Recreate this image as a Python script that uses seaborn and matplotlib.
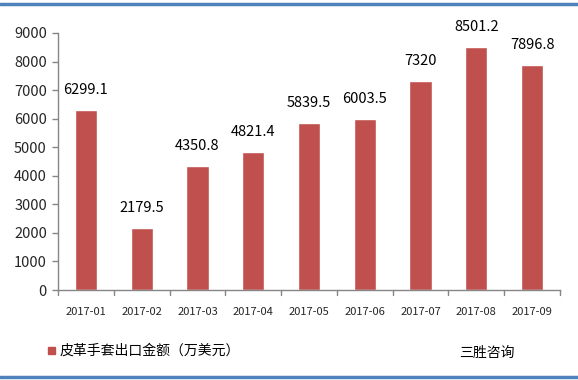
import matplotlib
matplotlib.use("Agg")
import matplotlib.pyplot as plt
import seaborn as sns
import pandas as pd
from matplotlib.lines import Line2D
from matplotlib.patches import Rectangle

months = ["2017-01", "2017-02", "2017-03", "2017-04", "2017-05",
          "2017-06", "2017-07", "2017-08", "2017-09"]
values = [6299.1, 2179.5, 4350.8, 4821.4, 5839.5, 6003.5, 7320, 8501.2, 7896.8]
labels = ["6299.1", "2179.5", "4350.8", "4821.4", "5839.5", "6003.5", "7320", "8501.2", "7896.8"]
yticks = [0, 1000, 2000, 3000, 4000, 5000, 6000, 7000, 8000, 9000]
legend_label = "皮革手套出口金额（万美元）"
source = "三胜咨询"

sns.set_theme(style="white")
plt.rcParams['font.family'] = ['Noto Sans CJK SC', 'DejaVu Sans']

df = pd.DataFrame({"month": months, "value": values})
fig = plt.figure(figsize=(5.78, 3.8), dpi=100)
ax = fig.add_axes([58/578, 1-290/380, 502/578, 257/380])
bar_color = "#C0504D"
sns.barplot(data=df, x="month", y="value", color=bar_color, width=0.4,
            saturation=1, ax=ax)

ax.set_ylim(0, 9000)
ax.set_yticks(yticks)
ax.set_yticklabels([str(t) for t in yticks], fontsize=10.5)
ax.set_xlim(-0.5, len(months) - 0.5)
ax.set_xlabel("")
ax.set_ylabel("")
ax.tick_params(axis='x', labelsize=8, length=0, pad=12)
ax.tick_params(axis='y', length=4, width=1, color="#868686", direction='out', pad=4, left=True)
for i in range(len(months) + 1):
    ax.plot([i - 0.5, i - 0.5], [0, -160], color="#868686", lw=1, clip_on=False,
            transform=ax.transData)

for s in ["top", "right"]:
    ax.spines[s].set_visible(False)
for s in ["left", "bottom"]:
    ax.spines[s].set_color("#868686")
    ax.spines[s].set_linewidth(1)

for i, (v, lab) in enumerate(zip(values, labels)):
    ax.text(i, v + 450, lab, ha="center", va="bottom", fontsize=10.5, color="black")

# legend
fig.patches.append(Rectangle((48/578, 1-354/380), 7/578, 7/380, transform=fig.transFigure,
                             color=bar_color))
fig.text(60/578, 1-351/380, legend_label, fontsize=10, va="center", ha="left", color="black")
fig.text(487/578, 1-353/380, source, fontsize=10, va="center", ha="center", color="black")

# frame lines
fig.lines.append(Line2D([0, 1], [1-4/380, 1-4/380], transform=fig.transFigure, color="#4F81BD", lw=2.5))
fig.lines.append(Line2D([0, 1], [1-377/380, 1-377/380], transform=fig.transFigure, color="#4F81BD", lw=2.5))

fig.savefig("out.png", dpi=100)
